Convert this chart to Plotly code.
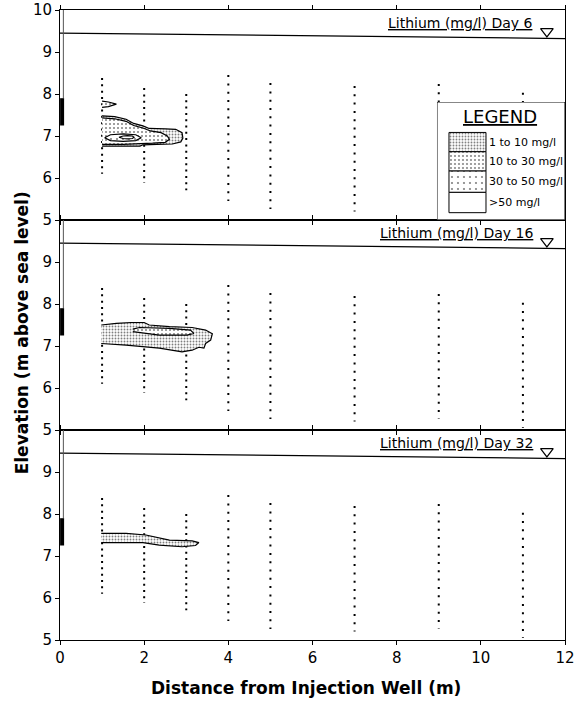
import plotly.graph_objects as go

# ---------------- data ----------------
days = [6, 16, 32]
panel_titles = ["Lithium (mg/l) Day 6", "Lithium (mg/l) Day 16", "Lithium (mg/l) Day 32"]

well_x = [1, 2, 3, 4, 5, 7, 9, 11]
sampler_top = [8.38, 8.14, 8.0, 8.45, 8.26, 8.19, 8.24, 8.03]
sampler_bottom = [6.1, 5.88, 5.71, 5.45, 5.26, 5.2, 5.26, 5.05]
sampler_spacing_close = [True, True, True, False, False, False, False, False]

water_table_x = [0, 12]
water_table_y = [9.45, 9.32]
water_marker_x = [11.57]
water_marker_y = [9.49]

casing_x = [0.08, 0.08]
casing_y = [10, 7.9]
screen_x = [0.05, 0.05]
screen_y = [7.9, 7.25]

# Day 6 plume
d6_outer_x = [1.0, 1.3, 1.57, 1.75, 1.97, 2.12, 2.5, 2.75, 2.9, 2.92, 2.87, 2.67, 2.3, 1.97, 1.9, 1.5, 1.0]
d6_outer_y = [7.48, 7.46, 7.4, 7.3, 7.24, 7.18, 7.17, 7.16, 7.08, 6.95, 6.86, 6.81, 6.8, 6.79, 6.76, 6.76, 6.76]
d6_mid_x = [1.0, 1.3, 1.57, 1.75, 1.97, 2.15, 2.4, 2.55, 2.6, 2.5, 2.2, 1.97, 1.5, 1.0]
d6_mid_y = [7.43, 7.41, 7.35, 7.25, 7.19, 7.12, 7.08, 7.0, 6.92, 6.85, 6.83, 6.82, 6.8, 6.8]
d6_high_x = [1.06, 1.2, 1.5, 1.8, 1.93, 1.8, 1.5, 1.2, 1.06]
d6_high_y = [6.96, 7.03, 7.05, 7.03, 6.96, 6.89, 6.87, 6.89, 6.96]
d6_core_x = [1.4, 1.5, 1.6, 1.72, 1.76, 1.72, 1.6, 1.5, 1.4]
d6_core_y = [6.97, 7.0, 7.01, 7.0, 6.97, 6.94, 6.93, 6.94, 6.97]
d6_blob_x = [1.0, 1.15, 1.34, 1.15, 1.0]
d6_blob_y = [7.83, 7.81, 7.76, 7.7, 7.68]

# Day 16 plume
d16_outer_x = [0.98, 1.34, 1.69, 2.0, 2.12, 2.6, 3.14, 3.46, 3.62, 3.58, 3.46, 3.42, 3.3, 3.14, 2.9, 2.36, 1.57, 0.98]
d16_outer_y = [7.5, 7.54, 7.56, 7.56, 7.5, 7.46, 7.44, 7.38, 7.29, 7.14, 7.06, 6.95, 6.97, 6.9, 6.86, 6.95, 7.02, 7.06]
d16_mid_x = [1.73, 1.89, 2.6, 3.1, 3.18, 3.02, 2.36, 1.73]
d16_mid_y = [7.4, 7.44, 7.42, 7.38, 7.3, 7.26, 7.26, 7.34]

# Day 32 plume
d32_outer_x = [0.98, 1.57, 2.04, 2.6, 3.14, 3.3, 3.22, 2.9, 2.36, 1.97, 0.98]
d32_outer_y = [7.54, 7.54, 7.5, 7.38, 7.36, 7.32, 7.25, 7.22, 7.26, 7.32, 7.32]

legend_labels = ["1 to 10 mg/l", "10 to 30 mg/l", "30 to 50 mg/l", ">50 mg/l"]

# ---------------- styles ----------------
FONT = "DejaVu Sans, Liberation Sans, Arial, sans-serif"
patterns = {
    "1-10": dict(shape=".", size=3, solidity=0.3, fgcolor="black", bgcolor="white"),
    "10-30": dict(shape=".", size=4, solidity=0.2, fgcolor="black", bgcolor="white"),
    "30-50": dict(shape=".", size=6, solidity=0.1, fgcolor="black", bgcolor="white"),
}
legend_keys = ["1-10", "10-30", "30-50", None]

fig = go.Figure()
axes = [("x", "y"), ("x2", "y2"), ("x3", "y3")]


def poly(xs, ys, key, xa, ya):
    kw = dict(fill="toself", mode="lines", line=dict(color="black", width=1.2),
              hoverinfo="skip", showlegend=False, xaxis=xa, yaxis=ya, fillcolor="white")
    if key is not None:
        kw["fillpattern"] = patterns[key]
    fig.add_trace(go.Scatter(x=xs, y=ys, **kw))


for i, (xa, ya) in enumerate(axes):
    for wx, top, bot, close in zip(well_x, sampler_top, sampler_bottom, sampler_spacing_close):
        fig.add_trace(go.Scatter(
            x=[wx, wx], y=[top, bot], mode="lines",
            line=dict(color="black", width=2, dash="2px,4.3px" if close else "2px,6.3px"),
            hoverinfo="skip", showlegend=False, xaxis=xa, yaxis=ya))
    fig.add_trace(go.Scatter(x=water_table_x, y=water_table_y, mode="lines",
                             line=dict(color="black", width=1.2), hoverinfo="skip",
                             showlegend=False, xaxis=xa, yaxis=ya))
    fig.add_trace(go.Scatter(x=water_marker_x, y=water_marker_y, mode="markers",
                             marker=dict(symbol="triangle-down-open", size=11, color="black",
                                         line=dict(width=1.2)),
                             hoverinfo="skip", showlegend=False, xaxis=xa, yaxis=ya))
    fig.add_trace(go.Scatter(x=casing_x, y=casing_y, mode="lines",
                             line=dict(color="#555", width=1), hoverinfo="skip",
                             showlegend=False, xaxis=xa, yaxis=ya))
    fig.add_trace(go.Scatter(x=screen_x, y=screen_y, mode="lines",
                             line=dict(color="black", width=4), hoverinfo="skip",
                             showlegend=False, xaxis=xa, yaxis=ya))
    fig.add_annotation(x=11.28, y=9.46, xref=xa, yref=ya, xanchor="right", yanchor="bottom",
                       text="<u>" + panel_titles[i] + "</u>", showarrow=False,
                       font=dict(family=FONT, size=14, color="black"))

poly(d6_outer_x, d6_outer_y, "1-10", "x", "y")
poly(d6_mid_x, d6_mid_y, "10-30", "x", "y")
poly(d6_high_x, d6_high_y, "30-50", "x", "y")
poly(d6_core_x, d6_core_y, None, "x", "y")
poly(d6_blob_x, d6_blob_y, "10-30", "x", "y")

poly(d16_outer_x, d16_outer_y, "1-10", "x2", "y2")
poly(d16_mid_x, d16_mid_y, "10-30", "x2", "y2")

poly(d32_outer_x, d32_outer_y, "1-10", "x3", "y3")

# ---------------- legend box (overlay axes) ----------------
fig.add_trace(go.Scatter(x=[0, 128, 128, 0, 0], y=[0, 0, 116, 116, 0], fill="toself",
                         fillcolor="white", mode="lines", line=dict(color="black", width=1),
                         hoverinfo="skip", showlegend=False, xaxis="x4", yaxis="y4"))
row_tops = [30, 49, 68, 89]
row_bots = [49, 68, 89, 109]
for key, lab, t, b in zip(legend_keys, legend_labels, row_tops, row_bots):
    kw = dict(fill="toself", mode="lines", line=dict(color="black", width=1),
              hoverinfo="skip", showlegend=False, xaxis="x4", yaxis="y4", fillcolor="white")
    if key is not None:
        kw["fillpattern"] = patterns[key]
    fig.add_trace(go.Scatter(x=[12, 49, 49, 12, 12], y=[t, t, b, b, t], **kw))
    fig.add_annotation(x=50, y=(t + b) / 2, xref="x4", yref="y4", xanchor="left",
                       yanchor="middle", text=lab, showarrow=False,
                       font=dict(family=FONT, size=11, color="black"))
fig.add_annotation(x=63, y=14, xref="x4", yref="y4", xanchor="center", yanchor="middle",
                   text="<u>LEGEND</u>", showarrow=False,
                   font=dict(family=FONT, size=18, color="black"))

# ---------------- layout ----------------
xcommon = dict(range=[0, 12], showline=True, mirror="ticks", linecolor="black", linewidth=1,
               ticks="outside", ticklen=4, tickcolor="black", dtick=2, showgrid=False,
               zeroline=False, automargin=False,
               tickfont=dict(family=FONT, size=15, color="black"))
ycommon = dict(range=[5, 10], showline=True, mirror=True, linecolor="black", linewidth=1,
               ticks="outside", ticklen=4, tickcolor="black", showgrid=False, zeroline=False,
               automargin=False, tickfont=dict(family=FONT, size=15, color="black"))

fig.update_layout(
    width=576, height=704,
    margin=dict(l=60, r=11, t=10, b=64, autoexpand=False),
    paper_bgcolor="white", plot_bgcolor="white",
    showlegend=False,
    xaxis=dict(**xcommon, anchor="y", showticklabels=False),
    xaxis2=dict(**xcommon, anchor="y2", showticklabels=False),
    xaxis3=dict(**xcommon, anchor="y3", showticklabels=True),
    yaxis=dict(**ycommon, domain=[2 / 3, 1], anchor="x", tickvals=[5, 6, 7, 8, 9, 10]),
    yaxis2=dict(**ycommon, domain=[1 / 3, 2 / 3], anchor="x2", tickvals=[5, 6, 7, 8, 9]),
    yaxis3=dict(**ycommon, domain=[0, 1 / 3], anchor="x3", tickvals=[5, 6, 7, 8, 9]),
    xaxis4=dict(domain=[0.7465, 1.0], range=[0, 128], visible=False, anchor="y4", fixedrange=True),
    yaxis4=dict(domain=[0.667, 0.854], range=[116, 0], visible=False, anchor="x4", fixedrange=True),
)

fig.add_annotation(x=-0.075, y=0.487, xref="paper", yref="paper", textangle=-90,
                   text="<b>Elevation (m above sea level)</b>", showarrow=False,
                   xanchor="center", yanchor="middle",
                   font=dict(family=FONT, size=17, color="black"))
fig.add_annotation(x=0.487, y=-0.076, xref="paper", yref="paper",
                   text="<b>Distance from Injection Well (m)</b>", showarrow=False,
                   xanchor="center", yanchor="middle",
                   font=dict(family=FONT, size=17, color="black"))

fig.write_html("out.html", config={"displayModeBar": False},
               post_script="document.body.style.margin='0';document.body.style.overflow='hidden';")
